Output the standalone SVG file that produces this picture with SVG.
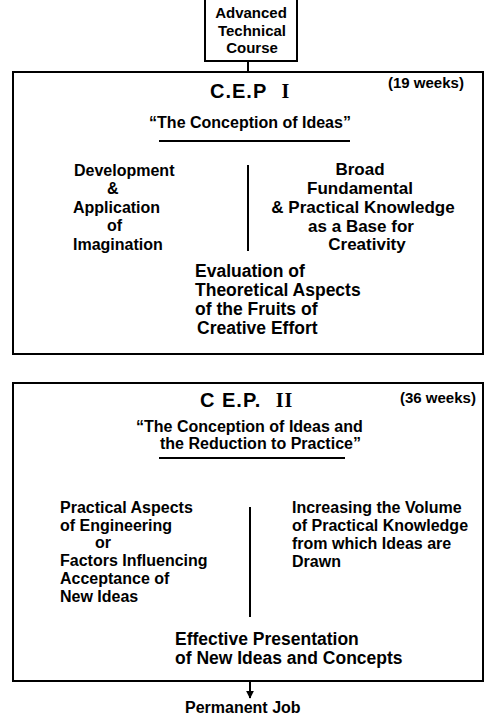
<svg xmlns="http://www.w3.org/2000/svg" width="491" height="718" viewBox="0 0 491 718">
  <style>
    .frame { fill: none; stroke: #000; stroke-width: 2; }
    .wire { fill: none; stroke: #000; stroke-width: 2; }
    text { font-family: "Liberation Sans", Arial, sans-serif; font-weight: bold; fill: #000; }
    .t { font-size: 16px; }
    .r { font-size: 17px; }
    .c { font-size: 17.5px; }
    .h { font-size: 20px; letter-spacing: 1px; }
    .q { font-size: 16px; }
    .w { font-size: 15px; }
    .top { font-size: 15px; }
    .mid { text-anchor: middle; }
    .rn { font-family: "Liberation Serif", "Times New Roman", serif; }
  </style>
  <defs>
    <marker id="arrow" viewBox="0 0 10 10" refX="9" refY="5" markerWidth="4" markerHeight="4" orient="auto">
      <path d="M0,0 L10,5 L0,10 z" fill="#000"/>
    </marker>
  </defs>

  <rect width="491" height="718" fill="#fff"/>

  <!-- entry course (open at the top) -->
  <g id="advanced-course">
    <path class="frame" d="M205,0 V61 H297 V0"/>
    <text class="top mid" x="251" y="18">Advanced</text>
    <text class="top mid" x="252" y="36">Technical</text>
    <text class="top mid" x="252" y="53">Course</text>
  </g>

  <!-- first phase -->
  <g id="cep1">
    <rect class="frame" x="13" y="72" width="470" height="282"/>
    <text class="h" x="210" y="98">C.E.P <tspan class="rn" dx="8">I</tspan></text>
    <text class="w" x="388" y="88">(19 weeks)</text>
    <text class="q mid" x="250" y="128">“The Conception of Ideas”</text>
    <line class="wire" x1="159" y1="141" x2="350" y2="141"/>
    <line class="wire" x1="248" y1="165" x2="248" y2="251"/>
    <text class="t" x="74" y="176">Development</text>
    <text class="t" x="107" y="194">&amp;</text>
    <text class="t" x="73" y="213">Application</text>
    <text class="t" x="107" y="231">of</text>
    <text class="t" x="73" y="250">Imagination</text>
    <text class="r mid" x="360" y="175">Broad</text>
    <text class="r mid" x="360" y="194">Fundamental</text>
    <text class="r mid" x="363" y="213">&amp; Practical Knowledge</text>
    <text class="r mid" x="361" y="232">as a Base for</text>
    <text class="r mid" x="367" y="250">Creativity</text>
    <text class="c" x="195" y="277">Evaluation of</text>
    <text class="c" x="195" y="296">Theoretical Aspects</text>
    <text class="c" x="195" y="315">of the Fruits of</text>
    <text class="c" x="197" y="334">Creative Effort</text>
  </g>

  <!-- second phase -->
  <g id="cep2">
    <rect class="frame" x="13" y="383" width="470" height="298"/>
    <text class="h" x="200" y="407">C E.P. <tspan class="rn" dx="8">II</tspan></text>
    <text class="w" x="400" y="403">(36 weeks)</text>
    <text class="q" x="136" y="432">“The Conception of Ideas and</text>
    <text class="q" x="160" y="449">the Reduction to Practice”</text>
    <line class="wire" x1="159" y1="458" x2="345" y2="458"/>
    <line class="wire" x1="250" y1="507" x2="250" y2="617"/>
    <text class="t" x="60" y="513">Practical Aspects</text>
    <text class="t" x="60" y="531">of Engineering</text>
    <text class="t" x="95" y="548">or</text>
    <text class="t" x="60" y="566">Factors Influencing</text>
    <text class="t" x="60" y="584">Acceptance of</text>
    <text class="t" x="60" y="602">New Ideas</text>
    <text class="t" x="292" y="513">Increasing the Volume</text>
    <text class="t" x="292" y="531">of Practical Knowledge</text>
    <text class="t" x="292" y="549">from which Ideas are</text>
    <text class="t" x="292" y="567">Drawn</text>
    <text class="c" x="175" y="645">Effective Presentation</text>
    <text class="c" x="175" y="664">of New Ideas and Concepts</text>
  </g>

  <g id="permanent-job">
    <text class="t" x="185" y="713">Permanent Job</text>
  </g>

  <!-- connectors -->
  <g id="connectors">
    <line class="wire" x1="248" y1="61" x2="248" y2="72"/>
    <line class="wire" x1="250" y1="681" x2="250" y2="698" marker-end="url(#arrow)"/>
  </g>
</svg>
